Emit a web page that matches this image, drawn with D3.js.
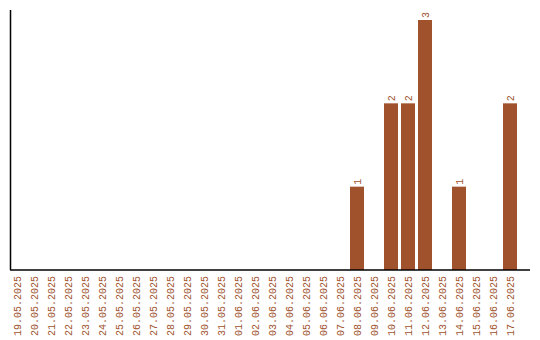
<html>
<head>
<style>
  body { margin: 0; background: #fff; }
  text { font-family: "Liberation Mono", "Courier New", monospace; font-size: 10px; fill: #a0522d; }
</style>
<script src="https://cdn.jsdelivr.net/npm/d3@7"></script>
</head>
<body>
<svg id="chart" width="540" height="340"></svg>
<script>
// dates shown on the x axis, and how many per day
let dates = ["19.05.2025","20.05.2025","21.05.2025","22.05.2025","23.05.2025","24.05.2025",
  "25.05.2025","26.05.2025","27.05.2025","28.05.2025","29.05.2025","30.05.2025","31.05.2025",
  "01.06.2025","02.06.2025","03.06.2025","04.06.2025","05.06.2025","06.06.2025","07.06.2025",
  "08.06.2025","09.06.2025","10.06.2025","11.06.2025","12.06.2025","13.06.2025","14.06.2025",
  "15.06.2025","16.06.2025","17.06.2025"]
let counts = [0,0,0,0,0,0,0,0,0,0,0,0,0,0,0,0,0,0,0,0,1,0,2,2,3,0,1,0,0,2]

let svg = d3.select("#chart")
let color = "#a0522d"
let mLeft = 10, mBottom = 270, mTop = 10, mRight = 530

let x = d3.scaleBand()
  .domain(dates)
  .range([mLeft, 517])
  .paddingInner(3 / 17)
  .paddingOuter(0)

let y = d3.scaleLinear()
  .domain([0, d3.max(counts) * 1.04])
  .range([mBottom, mTop])

let data = dates.map((d, i) => ({date: d, n: counts[i]}))

// bars
svg.selectAll("rect.bar").data(data.filter(d => d.n > 0))
  .enter().append("rect")
  .attr("class", "bar")
  .attr("x", d => x(d.date))
  .attr("y", d => y(d.n))
  .attr("width", x.bandwidth())
  .attr("height", d => y(0) - y(d.n))
  .attr("fill", color)

// value labels
svg.selectAll("text.val").data(data.filter(d => d.n > 0))
  .enter().append("text")
  .attr("class", "val")
  .attr("transform", d => "translate(" + (x(d.date) + x.bandwidth() / 2) + "," + (y(d.n) - 2) + ") rotate(-90)")
  .attr("dy", "0.35em")
  .text(d => d.n)

// axes (plain lines, no ticks)
svg.append("line").attr("x1", mLeft + 0.5).attr("x2", mLeft + 0.5)
  .attr("y1", mTop).attr("y2", mBottom).attr("stroke", "#000").attr("stroke-width", 1.5)
svg.append("line").attr("x1", mLeft).attr("x2", mRight)
  .attr("y1", mBottom).attr("y2", mBottom).attr("stroke", "#000").attr("stroke-width", 1.5)

// date labels
svg.selectAll("text.date").data(dates)
  .enter().append("text")
  .attr("class", "date")
  .attr("text-anchor", "end")
  .attr("transform", d => "translate(" + (x(d) + x.bandwidth() / 2) + "," + (mBottom + 6) + ") rotate(-90)")
  .attr("dy", "0.35em")
  .text(d => d)
</script>
</body>
</html>
